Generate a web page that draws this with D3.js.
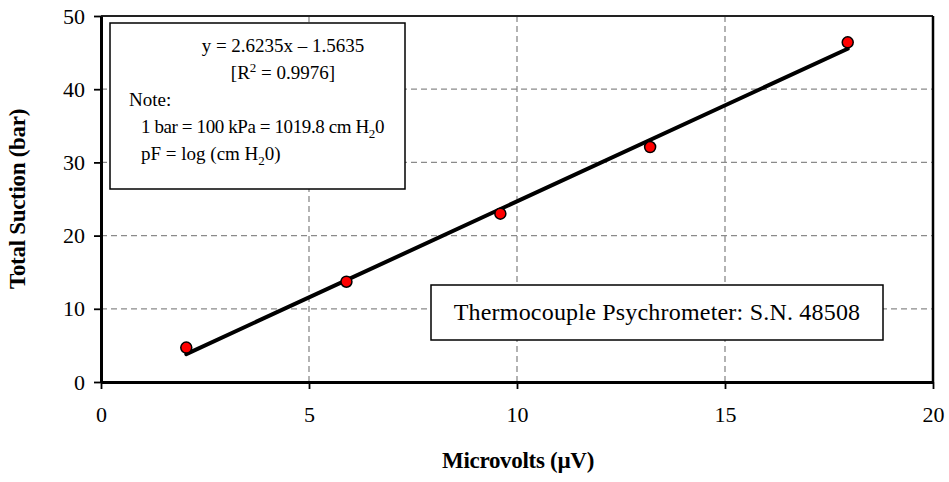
<!DOCTYPE html>
<html>
<head>
<meta charset="utf-8">
<script src="https://cdn.jsdelivr.net/npm/d3@7"></script>
<style>
  html, body { margin: 0; padding: 0; background: #fff; }
  svg { display: block; }
  text { font-family: "Liberation Serif", "Times New Roman", serif; fill: #000; }
</style>
</head>
<body>
<svg id="chart" width="949" height="482"></svg>
<script>
// ---- data ----
const microvolts = [2.05, 5.9, 9.6, 13.2, 17.95];
const suction = [4.7, 13.7, 23.0, 32.1, 46.4];
const xTicks = [0, 5, 10, 15, 20];
const yTicks = [0, 10, 20, 30, 40, 50];
const fitSlope = 2.6235;
const fitIntercept = -1.5635;
const eqLines = ["y = 2.6235x \u2013 1.5635"];
const xTitle = "Microvolts (\u00b5V)";
const yTitle = "Total Suction (bar)";
const boxLabel = "Thermocouple Psychrometer: S.N. 48508";

// ---- layout ----
const svg = d3.select("#chart");
const L = 101, R = 933, T = 16, B = 382;
const x = d3.scaleLinear().domain([0, 20]).range([L, R]);
const y = d3.scaleLinear().domain([0, 50]).range([B, T]);

// gridlines
const grid = svg.append("g");
grid.selectAll("line.gy").data(yTicks.filter(d => d > 0 && d < 50)).enter().append("line")
  .attr("x1", L).attr("x2", R).attr("y1", d => y(d)).attr("y2", d => y(d))
  .attr("stroke", "#8a8a8a").attr("stroke-width", 1.3).attr("stroke-dasharray", "6,4");
grid.selectAll("line.gx").data(xTicks.filter(d => d > 0 && d < 20)).enter().append("line")
  .attr("y1", T).attr("y2", B).attr("x1", d => x(d)).attr("x2", d => x(d))
  .attr("stroke", "#8a8a8a").attr("stroke-width", 1.3).attr("stroke-dasharray", "6,4");

// plot border top and right
svg.append("line").attr("x1", L).attr("x2", R).attr("y1", y(50)).attr("y2", y(50))
  .attr("stroke", "#222").attr("stroke-width", 2);
svg.append("line").attr("x1", x(20)).attr("x2", x(20)).attr("y1", T).attr("y2", B)
  .attr("stroke", "#000").attr("stroke-width", 2.5);

// axes
const xAxis = svg.append("g").attr("transform", `translate(0,${B})`)
  .call(d3.axisBottom(x).tickValues(xTicks).tickSize(7).tickSizeOuter(0).tickPadding(17));
const yAxis = svg.append("g").attr("transform", `translate(${L},0)`)
  .call(d3.axisLeft(y).tickValues(yTicks).tickSize(7).tickSizeOuter(0).tickPadding(9));
[xAxis, yAxis].forEach(a => {
  a.select(".domain").attr("stroke", "#000").attr("stroke-width", 3);
  a.selectAll(".tick line").attr("stroke", "#000").attr("stroke-width", 1.8);
  a.selectAll(".tick text").attr("font-family", "Liberation Serif").attr("font-size", 22).attr("fill", "#000");
});

// axis titles
svg.append("text").attr("x", 518).attr("y", 468).attr("text-anchor", "middle")
  .attr("font-size", 23).attr("font-weight", "bold").attr("letter-spacing", -0.3).text(xTitle);
svg.append("text").attr("transform", `translate(25,${(T + B) / 2}) rotate(-90)`)
  .attr("text-anchor", "middle").attr("font-size", 23).attr("font-weight", "bold")
  .attr("letter-spacing", -0.3).text(yTitle);

// trendline
const x0 = d3.min(microvolts), x1 = d3.max(microvolts);
svg.append("line")
  .attr("x1", x(x0)).attr("y1", y(fitSlope * x0 + fitIntercept))
  .attr("x2", x(x1)).attr("y2", y(fitSlope * x1 + fitIntercept))
  .attr("stroke", "#000").attr("stroke-width", 4).attr("stroke-linecap", "round");

// points
svg.selectAll("circle.pt").data(microvolts.map((v, i) => [v, suction[i]])).enter().append("circle")
  .attr("cx", d => x(d[0])).attr("cy", d => y(d[1])).attr("r", 5.5)
  .attr("fill", "#ff0000").attr("stroke", "#000").attr("stroke-width", 1.5);

// equation / note box
const b1 = svg.append("g");
b1.append("rect").attr("x", 110).attr("y", 23).attr("width", 295).attr("height", 166)
  .attr("fill", "#fff").attr("stroke", "#000").attr("stroke-width", 1.5);
const fs = 19;
b1.append("text").attr("x", 283).attr("y", 52).attr("text-anchor", "middle").attr("font-size", fs).text(eqLines[0]);
const r2 = b1.append("text").attr("x", 283).attr("y", 79).attr("text-anchor", "middle").attr("font-size", fs);
r2.append("tspan").text("[R");
r2.append("tspan").attr("dy", -7).attr("font-size", 13).text("2");
r2.append("tspan").attr("dy", 7).text(" = 0.9976]");
b1.append("text").attr("x", 129).attr("y", 106).attr("font-size", fs).text("Note:");
const n1 = b1.append("text").attr("x", 141).attr("y", 133).attr("font-size", fs).attr("letter-spacing", -0.4);
n1.append("tspan").text("1 bar  = 100 kPa = 1019.8 cm H");
n1.append("tspan").attr("dy", 5).attr("font-size", 13).text("2");
n1.append("tspan").attr("dy", -5).text("0");
const n2 = b1.append("text").attr("x", 141).attr("y", 160).attr("font-size", fs);
n2.append("tspan").text("pF = log  (cm H");
n2.append("tspan").attr("dy", 5).attr("font-size", 13).text("2");
n2.append("tspan").attr("dy", -5).text("0)");

// label box
const b2 = svg.append("g");
b2.append("rect").attr("x", 431).attr("y", 285).attr("width", 452).attr("height", 55)
  .attr("fill", "#fff").attr("stroke", "#000").attr("stroke-width", 1.5);
b2.append("text").attr("x", 657).attr("y", 320).attr("text-anchor", "middle")
  .attr("font-size", 24).attr("letter-spacing", 0.2).text(boxLabel);
</script>
</body>
</html>
